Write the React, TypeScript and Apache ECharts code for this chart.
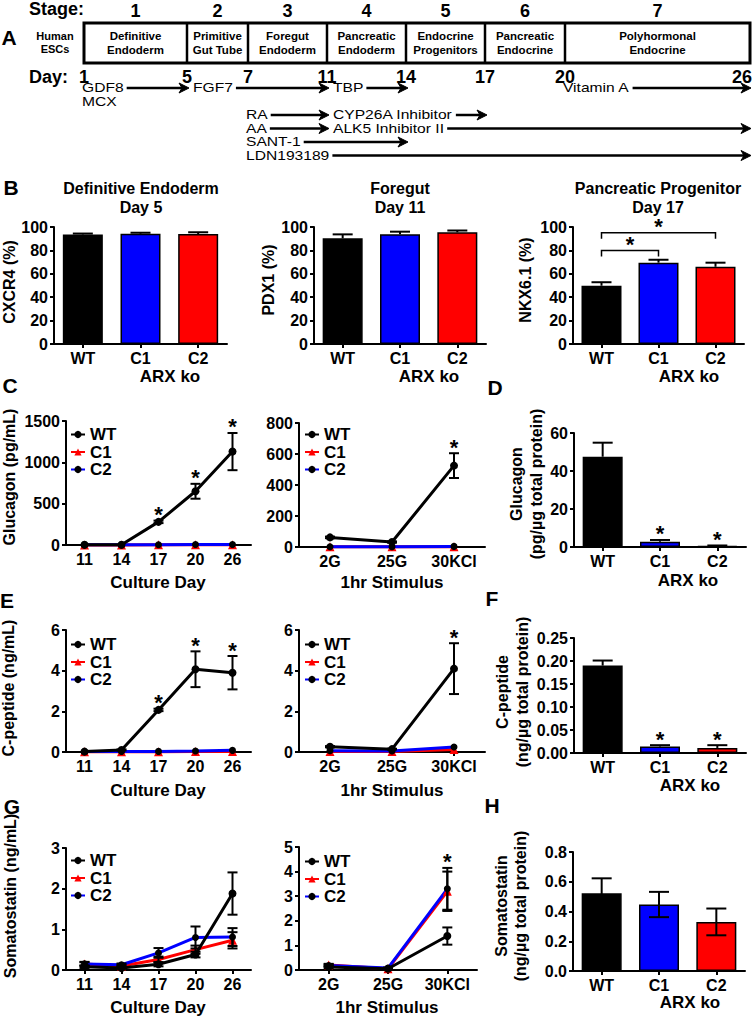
import React, { useEffect, useRef } from "react";
import * as echarts from "echarts";

const FONT = "'Liberation Sans', Arial, Helvetica, sans-serif";
const BLUE = "#0000ff";
const RED = "#ff0000";
const BAR_COLORS = ["#000000", BLUE, RED];

// ---------------- Panel A (protocol schematic) ----------------
const dayTicks = [1, 5, 7, 11, 14, 17, 20, 26];
const stageNumbers = ["1", "2", "3", "4", "5", "6", "7"];
const stageNames = [
  "Definitive\nEndoderm",
  "Primitive\nGut Tube",
  "Foregut\nEndoderm",
  "Pancreatic\nEndoderm",
  "Endocrine\nProgenitors",
  "Pancreatic\nEndocrine",
  "Polyhormonal\nEndocrine",
];
const treatmentLabels = ["GDF8", "FGF7", "TBP", "Vitamin A", "MCX", "RA", "CYP26A Inhibitor", "AA", "ALK5 Inhibitor II", "SANT-1", "LDN193189"];
const treatmentFrom = [1, 5, 11, 20, 1, 7, 11, 7, 11, 7, 7];
const treatmentTo = [5, 11, 14, 26, 0, 11, 17, 11, 26, 14, 26];
const treatmentRow = [0, 0, 0, 0, 1, 2, 2, 3, 3, 4, 5];

// ---------------- Panel B ----------------
const genotypes = ["WT", "C1", "C2"];
const bTitles = ["Definitive Endoderm\nDay 5", "Foregut\nDay 11", "Pancreatic Progenitor\nDay 17"];
const cxcr4Mean = [93.6, 94.3, 94.0];
const cxcr4Err = [0.8, 0.8, 1.5];
const pdx1Mean = [90.3, 93.8, 95.5];
const pdx1Err = [3.4, 2.2, 1.5];
const nkxMean = [49.8, 69.5, 66.0];
const nkxErr = [3.0, 2.5, 3.5];
const nkxCompareFrom = [0, 0];
const nkxCompareTo = [1, 2];
const nkxCompareLevel = [80, 95];

// ---------------- Panels C-H ----------------
const cultureDays = ["11", "14", "17", "20", "26"];
const stimuli = ["2G", "25G", "30KCl"];

const glcDayWT = [2, 2, 280, 650, 1130];
const glcDayWTErr = [0, 0, 15, 90, 225];
const glcDayWTSig = [0, 0, 1, 1, 1];
const glcDayC1 = [1, 1, 2, 2, 3];
const glcDayC2 = [2, 2, 4, 5, 6];
const glcStimWT = [62, 32, 525];
const glcStimWTErr = [5, 4, 80];
const glcStimWTSig = [0, 0, 1];
const glcStimC1 = [1, 1, 2];
const glcStimC2 = [2, 2, 4];
const glcContentMean = [47.5, 2.8, 0.5];
const glcContentErr = [7.4, 0.9, 0.3];
const glcContentSig = [0, 1, 1];

const cpepDayWT = [0.02, 0.1, 2.07, 4.07, 3.9];
const cpepDayWTErr = [0, 0.03, 0.06, 0.88, 0.82];
const cpepDayWTSig = [0, 0, 1, 1, 1];
const cpepDayC1 = [0.01, 0.01, 0.01, 0.02, 0.03];
const cpepDayC2 = [0.02, 0.03, 0.03, 0.05, 0.08];
const cpepStimWT = [0.26, 0.14, 4.1];
const cpepStimWTErr = [0.03, 0.02, 1.25];
const cpepStimWTSig = [0, 0, 1];
const cpepStimC1 = [0.02, 0.02, 0.12];
const cpepStimC2 = [0.06, 0.05, 0.25];
const cpepContentMean = [0.19, 0.014, 0.011];
const cpepContentErr = [0.011, 0.003, 0.006];
const cpepContentSig = [0, 1, 1];

const sstDayWT = [0.08, 0.05, 0.14, 0.38, 1.88];
const sstDayWTErr = [0.03, 0.02, 0.05, 0.07, 0.52];
const sstDayC1 = [0.15, 0.1, 0.26, 0.5, 0.73];
const sstDayC1Err = [0.05, 0.03, 0.07, 0.1, 0.2];
const sstDayC2 = [0.15, 0.13, 0.42, 0.8, 0.81];
const sstDayC2Err = [0.04, 0.03, 0.12, 0.27, 0.22];
const sstStimWT = [0.12, 0.05, 1.38];
const sstStimWTErr = [0.05, 0.02, 0.35];
const sstStimC1 = [0.2, 0.05, 3.2];
const sstStimC1Err = [0.05, 0.02, 0.8];
const sstStimC2 = [0.18, 0.08, 3.3];
const sstStimC2Err = [0.05, 0.02, 0.85];
const sstStimC2Sig = [0, 0, 1];
const sstContentMean = [0.523, 0.447, 0.33];
const sstContentErr = [0.1, 0.085, 0.09];

// ---------------- layout (positions only) ----------------
const DAY_X = [84, 187, 248, 327, 406, 485, 565, 750];
const ROW_Y0 = 88;
const ROW_DY = 13.5;
const T_SIZE = 12.5;
const T_SCALE = 1.25;
const GRIDS = [
  { left: 54, top: 227, width: 173, height: 117 }, // 0 B1
  { left: 314, top: 227, width: 172, height: 117 }, // 1 B2
  { left: 573, top: 227, width: 171, height: 117 }, // 2 B3
  { left: 66, top: 421, width: 185, height: 124 }, // 3 C left
  { left: 299, top: 423, width: 186, height: 124 }, // 4 C right
  { left: 574, top: 433, width: 172, height: 114 }, // 5 D
  { left: 66, top: 630, width: 185, height: 122 }, // 6 E left
  { left: 299, top: 630, width: 186, height: 122 }, // 7 E right
  { left: 574, top: 638, width: 172, height: 115 }, // 8 F
  { left: 66, top: 848, width: 185, height: 122 }, // 9 G left
  { left: 299, top: 847, width: 178, height: 123 }, // 10 G right
  { left: 573, top: 852, width: 172, height: 119 }, // 11 H
];

const bold = (s: number) => `bold ${s}px ${FONT}`;

function txt(text: string, x: number, y: number, font: string, align = "center", lineHeight?: number, rotation = 0) {
  return {
    type: "text",
    x,
    y,
    rotation,
    silent: true,
    style: { text, font, fill: "#000", textAlign: align, textVerticalAlign: "middle", lineHeight },
  };
}
function seg(x1: number, y1: number, x2: number, y2: number, w: number) {
  return { type: "line", silent: true, shape: { x1, y1, x2, y2 }, style: { stroke: "#000", lineWidth: w } };
}

function measure(text: string, font: string): number {
  const c = document.createElement("canvas").getContext("2d");
  if (!c) return text.length * 7;
  c.font = font;
  return c.measureText(text).width;
}

function panelA(): any[] {
  const els: any[] = [];
  const xOf = (d: number) => DAY_X[dayTicks.indexOf(d)];
  els.push(txt("Stage:", 29, 9, bold(18), "left"));
  stageNumbers.forEach((s, i) => {
    const cx = (DAY_X[i] + DAY_X[i + 1]) / 2;
    els.push(txt(s, cx, 11, bold(18)));
  });
  els.push({
    type: "rect",
    silent: true,
    shape: { x: DAY_X[0], y: 23, width: DAY_X[DAY_X.length - 1] - DAY_X[0], height: 40 },
    style: { fill: "#fff", stroke: "#000", lineWidth: 3 },
  });
  for (let i = 1; i < DAY_X.length - 1; i++) els.push(seg(DAY_X[i], 23, DAY_X[i], 63, 2.5));
  stageNames.forEach((s, i) => {
    const cx = (DAY_X[i] + DAY_X[i + 1]) / 2;
    els.push(txt(s, cx, 43, bold(11.5), "center", 14));
  });
  els.push(txt("Human\nESCs", 55, 42, bold(11), "center", 13));
  els.push(txt("Day:", 29, 77, bold(18), "left"));
  dayTicks.forEach((d, i) => {
    const last = i === dayTicks.length - 1;
    els.push(txt(String(d), last ? 752 : DAY_X[i], 77, bold(18), last ? "right" : "center"));
  });
  const tFont = `${T_SIZE}px ${FONT}`;
  treatmentLabels.forEach((label, k) => {
    const y = ROW_Y0 + ROW_DY * treatmentRow[k];
    const from = treatmentFrom[k];
    const continues = treatmentTo.some((t, j) => treatmentRow[j] === treatmentRow[k] && t === from && j !== k);
    const x0 = xOf(from) + (continues ? 6 : -2);
    const t = txt(label, x0, y, tFont, "left", T_SIZE) as any;
    t.scaleX = T_SCALE;
    els.push(t);
    if (treatmentTo[k] > 0) {
      const xs = x0 + measure(label, tFont) * T_SCALE + 3;
      const xt = Math.min(xOf(treatmentTo[k]) + 2, 751);
      els.push(seg(xs, y, xt - 7, y, 2.5));
      els.push({
        type: "polygon",
        silent: true,
        shape: { points: [[xt, y], [xt - 10, y - 5], [xt - 7, y], [xt - 10, y + 5]] },
        style: { fill: "#000", stroke: "#000", lineWidth: 1 },
      });
    }
  });
  return els;
}

function annotations(): any[] {
  const els: any[] = [];
  const letters: [string, number, number][] = [
    ["A", 9, 37], ["B", 11, 187], ["C", 10, 385], ["D", 495, 387],
    ["E", 7, 600], ["F", 492, 598], ["G", 12, 806], ["H", 492, 805],
  ];
  letters.forEach(([l, x, y]) => els.push(txt(l, x, y, bold(21))));
  const bx = [141, 400, 658];
  bTitles.forEach((t, i) => els.push(txt(t, bx[i], 197.5, bold(16), "center", 19)));
  const xt: [string, number, number][] = [
    ["ARX ko", 170, 376], ["ARX ko", 429, 376], ["ARX ko", 689, 376],
    ["Culture Day", 158, 582], ["1hr Stimulus", 392, 582], ["ARX ko", 688, 580],
    ["Culture Day", 158, 790], ["1hr Stimulus", 392, 790], ["ARX ko", 690, 785],
    ["Culture Day", 158, 1007], ["1hr Stimulus", 387, 1007], ["ARX ko", 690, 1002],
  ];
  xt.forEach(([t, x, y]) => els.push(txt(t, x, y, bold(17))));
  const yt: [string, number, number, number][] = [
    ["CXCR4 (%)", 9, 282, 19], ["PDX1 (%)", 268, 280, 19], ["NKX6.1 (%)", 525, 280, 19],
    ["Glucagon (pg/mL)", 9, 477, 19], ["Glucagon\n(pg/µg total protein)", 526, 484, 20],
    ["C-peptide (ng/mL)", 8, 688, 19], ["C-peptide\n(ng/µg total protein)", 512, 692, 20],
    ["Somatostatin (ng/mL)", 10, 896, 19], ["Somatostatin\n(ng/µg total protein)", 511, 906, 19],
  ];
  yt.forEach(([t, x, y, lh]) => els.push(txt(t, x, y, bold(16), "center", lh, Math.PI / 2)));
  return els;
}

function yAxis(idx: number, max: number, interval: number, digits = 0) {
  return {
    type: "value",
    gridIndex: idx,
    min: 0,
    max,
    interval,
    axisLine: { show: true, lineStyle: { color: "#000", width: 2 } },
    axisTick: { show: true, length: 4, lineStyle: { color: "#000", width: 2 } },
    splitLine: { show: false },
    axisLabel: {
      color: "#000",
      fontSize: 16,
      fontWeight: "bold",
      fontFamily: FONT,
      margin: 6,
      formatter: (v: number) => v.toFixed(digits),
    },
  };
}
function xAxis(idx: number, cats: string[]) {
  return {
    type: "category",
    gridIndex: idx,
    data: cats,
    boundaryGap: true,
    axisLine: { show: true, onZero: false, lineStyle: { color: "#000", width: 2 } },
    axisTick: { show: true, alignWithLabel: true, interval: 0, length: 4, lineStyle: { color: "#000", width: 2 } },
    axisLabel: { color: "#000", fontSize: 16, fontWeight: "bold", fontFamily: FONT, margin: 6, interval: 0 },
    splitLine: { show: false },
  };
}

function barSeries(idx: number, means: number[]) {
  return {
    type: "bar",
    xAxisIndex: idx,
    yAxisIndex: idx,
    barWidth: 40,
    silent: true,
    z: 2,
    data: means.map((v, i) => ({
      value: v,
      itemStyle: { color: BAR_COLORS[i], borderColor: "#000", borderWidth: 1.5 },
    })),
  };
}

const LINE_COLORS: Record<string, string> = { WT: "#000000", C1: RED, C2: BLUE };
function lineSeries(idx: number, name: string, values: number[]) {
  return {
    type: "line",
    name,
    xAxisIndex: idx,
    yAxisIndex: idx,
    data: values,
    symbol: name === "C1" ? "triangle" : "circle",
    symbolSize: name === "C1" ? 9 : name === "WT" ? 8 : 7,
    showAllSymbol: true,
    lineStyle: { color: LINE_COLORS[name], width: 3 },
    itemStyle: { color: name === "C1" ? RED : "#000" },
    z: name === "WT" ? 4 : 3,
    clip: false,
    silent: true,
  };
}

function starText(x: number, y: number) {
  return {
    type: "text",
    x,
    y,
    style: { text: "*", font: bold(22), fill: "#000", textAlign: "center", textVerticalAlign: "middle" },
  };
}

function errSeries(idx: number, means: number[], errs: number[], sigs: number[] | null, capHalf: number, both: boolean) {
  return {
    type: "custom",
    xAxisIndex: idx,
    yAxisIndex: idx,
    silent: true,
    clip: false,
    z: 6,
    data: means.map((m, i) => [i, m, errs[i], sigs ? sigs[i] : 0]),
    renderItem: (_p: any, api: any) => {
      const i = api.value(0);
      const m = api.value(1);
      const e = api.value(2);
      const s = api.value(3);
      const children: any[] = [];
      const top = api.coord([i, m + e]);
      const st = { stroke: "#000", lineWidth: 2 };
      if (e > 0) {
        const bot = api.coord([i, both ? m - e : m]);
        children.push({ type: "line", shape: { x1: top[0], y1: top[1], x2: bot[0], y2: bot[1] }, style: st });
        children.push({ type: "line", shape: { x1: top[0] - capHalf, y1: top[1], x2: top[0] + capHalf, y2: top[1] }, style: st });
        if (both)
          children.push({ type: "line", shape: { x1: bot[0] - capHalf, y1: bot[1], x2: bot[0] + capHalf, y2: bot[1] }, style: st });
      }
      if (s) children.push(starText(top[0], top[1] - 6));
      return { type: "group", children };
    },
  };
}

function bracketSeries(idx: number) {
  return {
    type: "custom",
    xAxisIndex: idx,
    yAxisIndex: idx,
    silent: true,
    clip: false,
    z: 6,
    data: nkxCompareFrom.map((f, i) => [f, nkxCompareLevel[i], nkxCompareTo[i]]),
    renderItem: (_p: any, api: any) => {
      const a = api.coord([api.value(0), api.value(1)]);
      const b = api.coord([api.value(2), api.value(1)]);
      return {
        type: "group",
        children: [
          {
            type: "polyline",
            shape: { points: [[a[0], a[1] + 6], [a[0], a[1]], [b[0], b[1]], [b[0], b[1] + 6]] },
            style: { stroke: "#000", lineWidth: 1.5, fill: null },
          },
          starText((a[0] + b[0]) / 2, a[1] - 6),
        ],
      };
    },
  };
}

function legend(left: number, top: number) {
  return {
    orient: "vertical",
    left,
    top,
    padding: 0,
    itemWidth: 14,
    itemHeight: 9,
    itemGap: 0.5,
    selectedMode: false,
    data: ["WT", "C1", "C2"],
    textStyle: { color: "#000", fontSize: 17, fontWeight: "bold", fontFamily: FONT, lineHeight: 14 },
  };
}

function buildOption(): any {
  const grid = GRIDS.map((g) => ({ ...g, containLabel: false, outerBoundsMode: "none" }));
  const xAxes = [
    xAxis(0, genotypes), xAxis(1, genotypes), xAxis(2, genotypes),
    xAxis(3, cultureDays), xAxis(4, stimuli), xAxis(5, genotypes),
    xAxis(6, cultureDays), xAxis(7, stimuli), xAxis(8, genotypes),
    xAxis(9, cultureDays), xAxis(10, stimuli), xAxis(11, genotypes),
  ];
  const yAxes = [
    yAxis(0, 100, 20), yAxis(1, 100, 20), yAxis(2, 100, 20),
    yAxis(3, 1500, 500), yAxis(4, 800, 200), yAxis(5, 60, 20),
    yAxis(6, 6, 2), yAxis(7, 6, 2), yAxis(8, 0.25, 0.05, 2),
    yAxis(9, 3, 1), yAxis(10, 5, 1), yAxis(11, 0.8, 0.2, 1),
  ];
  const series: any[] = [
    // B
    barSeries(0, cxcr4Mean), errSeries(0, cxcr4Mean, cxcr4Err, null, 10, false),
    barSeries(1, pdx1Mean), errSeries(1, pdx1Mean, pdx1Err, null, 10, false),
    barSeries(2, nkxMean), errSeries(2, nkxMean, nkxErr, null, 10, false), bracketSeries(2),
    // C
    lineSeries(3, "C1", glcDayC1), lineSeries(3, "C2", glcDayC2), lineSeries(3, "WT", glcDayWT),
    errSeries(3, glcDayWT, glcDayWTErr, glcDayWTSig, 5, true),
    lineSeries(4, "C1", glcStimC1), lineSeries(4, "C2", glcStimC2), lineSeries(4, "WT", glcStimWT),
    errSeries(4, glcStimWT, glcStimWTErr, glcStimWTSig, 5, true),
    // D
    barSeries(5, glcContentMean), errSeries(5, glcContentMean, glcContentErr, glcContentSig, 10, false),
    // E
    lineSeries(6, "C1", cpepDayC1), lineSeries(6, "C2", cpepDayC2), lineSeries(6, "WT", cpepDayWT),
    errSeries(6, cpepDayWT, cpepDayWTErr, cpepDayWTSig, 5, true),
    lineSeries(7, "C1", cpepStimC1), lineSeries(7, "C2", cpepStimC2), lineSeries(7, "WT", cpepStimWT),
    errSeries(7, cpepStimWT, cpepStimWTErr, cpepStimWTSig, 5, true),
    // F
    barSeries(8, cpepContentMean), errSeries(8, cpepContentMean, cpepContentErr, cpepContentSig, 10, false),
    // G
    lineSeries(9, "C1", sstDayC1), lineSeries(9, "C2", sstDayC2), lineSeries(9, "WT", sstDayWT),
    errSeries(9, sstDayC1, sstDayC1Err, null, 5, true),
    errSeries(9, sstDayC2, sstDayC2Err, null, 5, true),
    errSeries(9, sstDayWT, sstDayWTErr, null, 5, true),
    lineSeries(10, "C1", sstStimC1), lineSeries(10, "C2", sstStimC2), lineSeries(10, "WT", sstStimWT),
    errSeries(10, sstStimC1, sstStimC1Err, null, 5, true),
    errSeries(10, sstStimC2, sstStimC2Err, sstStimC2Sig, 5, true),
    errSeries(10, sstStimWT, sstStimWTErr, null, 5, true),
    // H
    barSeries(11, sstContentMean), errSeries(11, sstContentMean, sstContentErr, null, 10, true),
  ];
  return {
    animation: false,
    backgroundColor: "#ffffff",
    textStyle: { fontFamily: FONT },
    grid,
    xAxis: xAxes,
    yAxis: yAxes,
    series,
    legend: [legend(70, 426), legend(304, 426), legend(70, 636), legend(304, 636), legend(70, 852), legend(304, 853)],
    graphic: { elements: [...panelA(), ...annotations()] },
  };
}

export default function App() {
  const ref = useRef<HTMLDivElement>(null);
  useEffect(() => {
    if (!ref.current) return;
    const chart = echarts.init(ref.current, null, { renderer: "svg" });
    chart.setOption(buildOption());
    return () => chart.dispose();
  }, []);
  return (
    <div
      ref={ref}
      style={{ position: "absolute", left: 0, top: 0, width: 753, height: 1019, background: "#fff" }}
    />
  );
}
